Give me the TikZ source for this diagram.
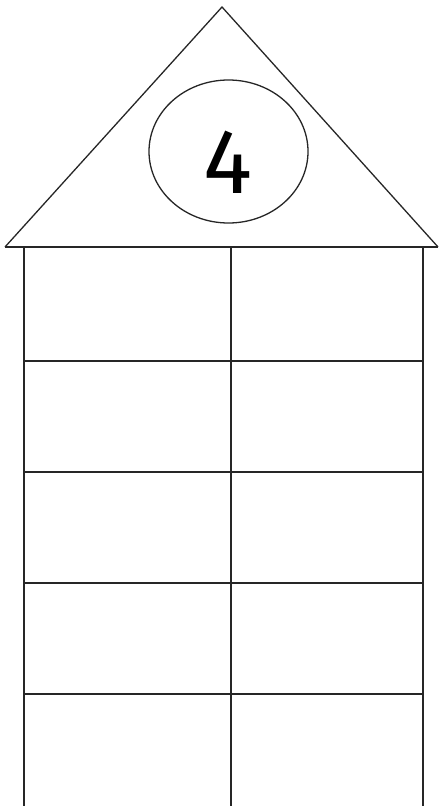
\documentclass[tikz,border=0pt]{standalone}
\usepackage{fontspec}
\newfontfamily\digitfont{Fira Sans}
\usetikzlibrary{shapes.geometric}
\begin{document}
\begin{tikzpicture}[x=1pt,y=-1pt,
  edge/.style={line width=1.3pt,black!85},
  base/.style={line width=1.8pt,black!85},
  oval/.style={ellipse,draw,line width=1.3pt,black!85,minimum width=159pt,minimum height=143pt,inner sep=0pt},
  digit/.style={inner sep=0pt,font=\digitfont\fontsize{92}{92}\selectfont}]
\useasboundingbox (0,0) rectangle (439,806);
% roof
\coordinate (apex) at (222,7);
\coordinate (roofL) at (5,247);
\coordinate (roofR) at (438,247);
\draw[edge,line join=miter] (roofL) -- (apex) -- (roofR);
\draw[base] (roofL) -- (roofR);
\node[oval] (circ) at (228.5,151.5) {};
\node[digit,anchor=base] (num) at (227.5,193) {4};
% body
\coordinate (bodyTL) at (24,247);
\coordinate (bodyTR) at (423,247);
\coordinate (bodyBL) at (24,807);
\coordinate (bodyBR) at (423,807);
\coordinate (midT) at (231,247);
\coordinate (midB) at (231,807);
\draw[edge] (bodyTL) -- (bodyBL);
\draw[edge] (bodyTR) -- (bodyBR);
\draw[edge] (midT) -- (midB);
\foreach \yy/\nm in {361/r1,472/r2,583/r3,694/r4}{
  \coordinate (\nm L) at (24,\yy);
  \coordinate (\nm R) at (423,\yy);
  \draw[edge] (\nm L) -- (\nm R);
}
\end{tikzpicture}
\end{document}
